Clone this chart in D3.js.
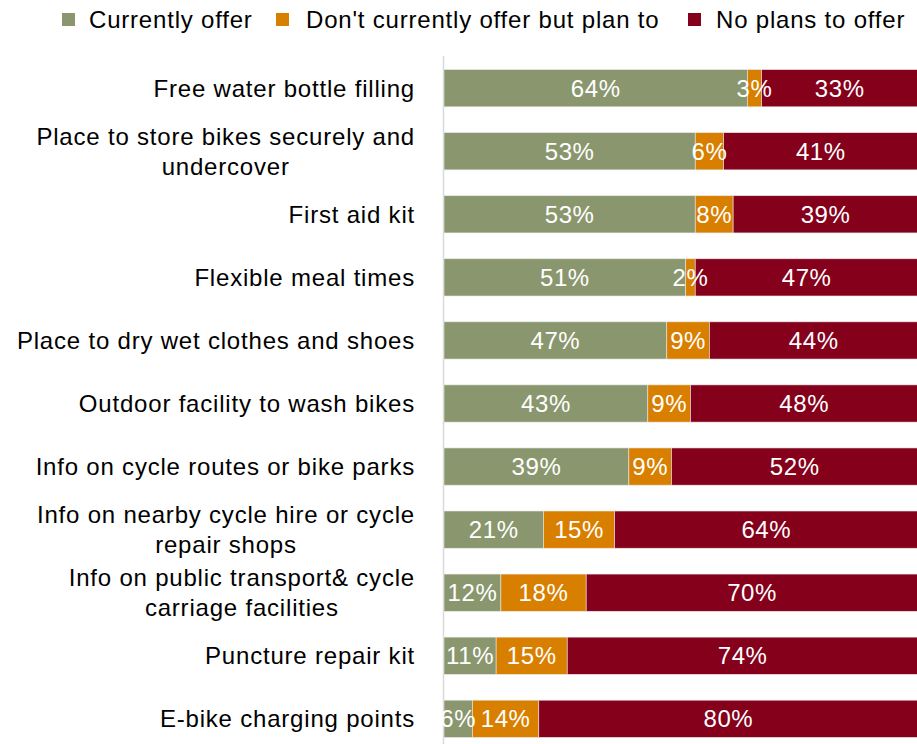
<!DOCTYPE html>
<html>
<head>
<meta charset="utf-8">
<script src="https://cdn.jsdelivr.net/npm/d3@7"></script>
<style>
  body { margin: 0; background: #fff; }
  text { font-family: "Liberation Sans", Arial, sans-serif; font-size: 24px; letter-spacing: 0.8px; }
</style>
</head>
<body>
<div id="chart"></div>
<script>
// 类别（每行可含换行）
const categories = [
  ["Free water bottle filling"],
  ["Place to store bikes securely and", "undercover"],
  ["First aid kit"],
  ["Flexible meal times"],
  ["Place to dry wet clothes and shoes"],
  ["Outdoor facility to wash bikes"],
  ["Info on cycle routes or bike parks"],
  ["Info on nearby cycle hire or cycle", "repair shops"],
  ["Info on public transport& cycle", "carriage facilities"],
  ["Puncture repair kit"],
  ["E-bike charging points"]
];
const seriesNames = ["Currently offer", "Don't currently offer but plan to", "No plans to offer"];
const currentlyOffer = [64, 53, 53, 51, 47, 43, 39, 21, 12, 11, 6];
const planTo = [3, 6, 8, 2, 9, 9, 9, 15, 18, 15, 14];
const noPlans = [33, 41, 39, 47, 44, 48, 52, 64, 70, 74, 80];
const colors = ["#8a976e", "#d97f00", "#84001b"];

const width = 917, height = 744;
const svg = d3.select("#chart").append("svg")
  .attr("width", width)
  .attr("height", height);

// 数据整理
const rows = categories.map((c, i) => ({ key: i, lines: c, vals: [currentlyOffer[i], planTo[i], noPlans[i]] }));

const x = d3.scaleLinear().domain([0, 100]).range([444, 918]);
const y = d3.scaleBand().domain(d3.range(categories.length)).range([57, 750]).paddingInner(0.41).paddingOuter(0.2);

// 轴线
svg.append("line")
  .attr("x1", 443.5).attr("x2", 443.5)
  .attr("y1", 56).attr("y2", height)
  .style("stroke", "#d9d9d9")
  .style("stroke-width", 1.5);

// 柱
const rowG = svg.append("g").selectAll("g")
  .data(rows)
  .enter().append("g");

rowG.each(function(d) {
  const g = d3.select(this);
  let cum = 0;
  d.vals.forEach((v, j) => {
    const x0 = x(cum), x1 = x(cum + v);
    g.append("rect")
      .attr("x", x0)
      .attr("y", y(d.key))
      .attr("width", x1 - x0)
      .attr("height", y.bandwidth())
      .style("fill", colors[j])
      .style("stroke", "#e6e6e6")
      .style("stroke-width", 0.6);
    cum += v;
  });
  cum = 0;
  d.vals.forEach((v, j) => {
    const x0 = x(cum), x1 = x(cum + v);
    g.append("text")
      .attr("x", (x0 + x1) / 2)
      .attr("y", y(d.key) + y.bandwidth() / 2)
      .attr("dy", "0.36em")
      .attr("text-anchor", "middle")
      .style("fill", "#fff")
      .style("letter-spacing", "0.6px")
      .text(v + "%");
    cum += v;
  });
});

// 类别标签（块右对齐，行居中）
const labelRight = 415;
const lineH = 30;
rows.forEach(d => {
  const cy = y(d.key) + y.bandwidth() / 2;
  const t = svg.append("text")
    .style("fill", "#000");
  const n = d.lines.length;
  // 测量最宽行
  const tmp = svg.append("text");
  let maxW = 0;
  d.lines.forEach(l => { tmp.text(l); maxW = Math.max(maxW, tmp.node().getComputedTextLength()); });
  tmp.remove();
  const cx = labelRight - maxW / 2;
  d.lines.forEach((l, i) => {
    t.append("tspan")
      .attr("x", cx)
      .attr("y", cy + (i - (n - 1) / 2) * lineH)
      .attr("dy", "0.36em")
      .attr("text-anchor", "middle")
      .text(l);
  });
});

// 图例
const legendItems = [
  { name: seriesNames[0], x: 62, tx: 89 },
  { name: seriesNames[1], x: 276, tx: 306 },
  { name: seriesNames[2], x: 688, tx: 716 }
];
const legend = svg.append("g").selectAll("g")
  .data(legendItems)
  .enter().append("g")
  .attr("transform", d => `translate(${d.x}, 19.5)`);
legend.append("rect")
  .attr("x", 0).attr("y", -6.5)
  .attr("width", 13).attr("height", 13)
  .style("fill", (d, i) => colors[i]);
legend.append("text")
  .attr("x", d => d.tx - d.x)
  .attr("dy", "0.36em")
  .style("fill", "#000")
  .text(d => d.name);
</script>
</body>
</html>
